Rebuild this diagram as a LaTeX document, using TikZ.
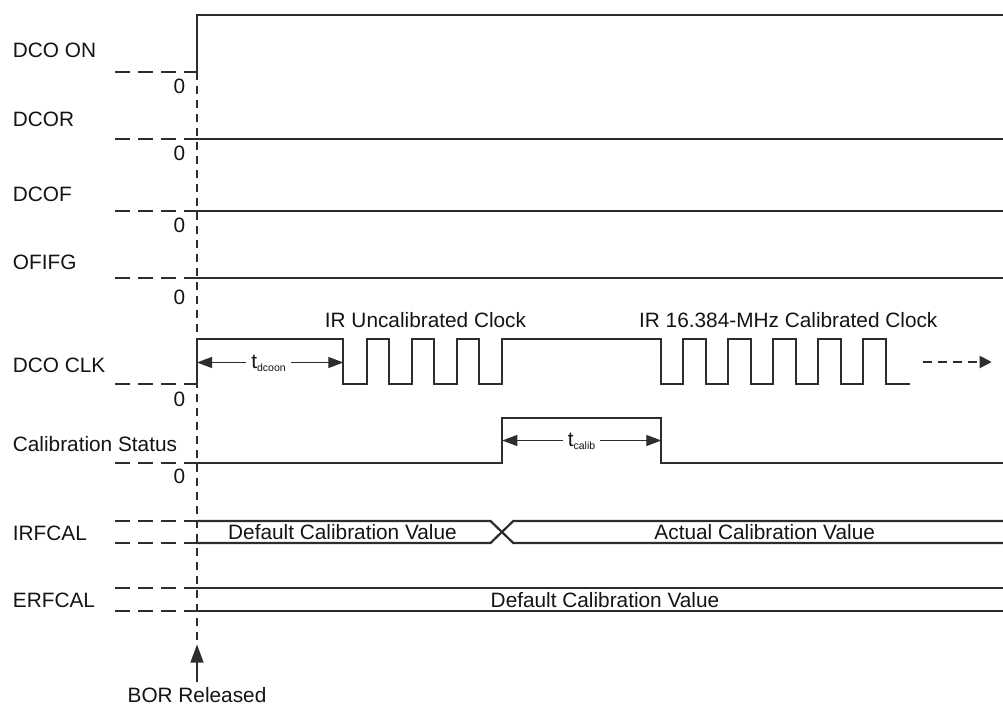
\documentclass[tikz,border=0pt]{standalone}
\usepackage{fontspec}
\setmainfont{Liberation Sans}
\usetikzlibrary{arrows.meta}
\definecolor{linec}{RGB}{45,45,45}
\definecolor{txtc}{RGB}{20,20,20}
\newcommand{\mylbfont}{\fontsize{20.8}{24}\selectfont}
\newcommand{\mytsub}[1]{t\raisebox{-3pt}{\fontsize{10.5}{12}\selectfont #1}}
\begin{document}
\begin{tikzpicture}[x=1pt,y=-1pt,
  sig/.style={line width=2.2pt,draw=linec,line join=miter},
  dsh/.style={line width=2.2pt,draw=linec,dash pattern=on 15pt off 8pt},
  vdsh/.style={line width=1.5pt,draw=linec,dash pattern=on 8pt off 6pt},
  dimarr/.style={line width=1.1pt,draw=linec,-{Triangle[length=15pt,width=11pt]}},
  lbl/.style={anchor=west,inner sep=0pt,text=txtc,font=\mylbfont},
  zero/.style={inner sep=0pt,text=txtc,font=\mylbfont},
  ctext/.style={inner sep=0pt,text=txtc,font=\mylbfont},
  dimlbl/.style={anchor=base,inner xsep=5pt,inner ysep=0pt,text=txtc,font=\mylbfont}]
\useasboundingbox[fill=white] (0,0) rectangle (1003,706);

% ---------- left labels ----------
\node[lbl] (lDCOON) at (12.7,50.8) {DCO ON};
\node[lbl] (lDCOR)  at (12.7,119.2) {DCOR};
\node[lbl] (lDCOF)  at (12.7,194.5) {DCOF};
\node[lbl] (lOFIFG) at (12.7,262.2) {OFIFG};
\node[lbl] (lCLK)   at (12.7,365) {DCO CLK};
\node[lbl] (lCAL)   at (12.7,443.8) {Calibration Status};
\node[lbl] (lIRF)   at (12.7,533.2) {IRFCAL};
\node[lbl] (lERF)   at (12.7,600.8) {ERFCAL};

% ---------- zero marks ----------
\node[zero] (z1) at (179.3,86.7) {0};
\node[zero] (z2) at (179.3,153.3) {0};
\node[zero] (z3) at (179.3,225.3) {0};
\node[zero] (z4) at (179.3,297) {0};
\node[zero] (z5) at (179.3,399) {0};
\node[zero] (z6) at (179.3,476.7) {0};

% ---------- dashed low levels ----------
\draw[dsh] (115,72) -- (197,72);
\draw[dsh] (115,139) -- (197,139);
\draw[dsh] (115,211) -- (197,211);
\draw[dsh] (115,278) -- (197,278);
\draw[dsh] (115,384) -- (197,384);
\draw[dsh] (115,463) -- (197,463);
\draw[dsh] (115,521) -- (197,521);
\draw[dsh] (115,543) -- (197,543);
\draw[dsh] (115,588) -- (197,588);
\draw[dsh] (115,611) -- (197,611);

% ---------- BOR marker ----------
\node[ctext] (bor) at (197,695.5) {BOR Released};
\coordinate (borTip) at (197,644.5);
\coordinate (borTop) at (197,72);
\draw[vdsh] (borTop) -- (borTip);
\draw[line width=1.1pt,draw=linec,-{Triangle[length=18pt,width=13pt]}] ([yshift=6pt]bor.north) -- (borTip);

% ---------- signals ----------
\draw[sig] (197,72) -- (197,15) -- (1003,15);
\draw[sig] (197,139) -- (1003,139);
\draw[sig] (197,211) -- (1003,211);
\draw[sig] (197,278) -- (1003,278);

% DCO CLK
\draw[sig] (197,384) -- (197,339) -- (343.3,339) -- (343.3,384)
  -- (366.7,384) -- (366.7,339) -- (389,339) -- (389,384)
  -- (411.7,384) -- (411.7,339) -- (434,339) -- (434,384)
  -- (456.7,384) -- (456.7,339) -- (479.3,339) -- (479.3,384)
  -- (502.3,384) -- (502.3,339) -- (661,339) -- (661,384)
  -- (682.7,384) -- (682.7,339) -- (706,339) -- (706,384)
  -- (728.3,384) -- (728.3,339) -- (750.7,339) -- (750.7,384)
  -- (773.3,384) -- (773.3,339) -- (796,339) -- (796,384)
  -- (818.3,384) -- (818.3,339) -- (841,339) -- (841,384)
  -- (863.3,384) -- (863.3,339) -- (886,339) -- (886,384)
  -- (910,384);
\node[ctext] (irunc) at (425.5,320.3) {IR Uncalibrated Clock};
\node[ctext] (ircal) at (788.3,320.3) {IR 16.384-MHz Calibrated Clock};
\coordinate (contS) at (922.7,362);
\coordinate (contE) at (991.7,362);
\draw[line width=2pt,draw=linec,dash pattern=on 9pt off 6pt,-{Triangle[length=12pt,width=12pt]}] (contS) -- (contE);

% t_dcoon
\coordinate (dcL) at (197,362.5);
\coordinate (dcR) at (343.3,362.5);
\node[dimlbl] (tdc) at (268.5,368.2) {\mytsub{dcoon}};
\draw[dimarr] (dcL -| tdc.west) -- (dcL);
\draw[dimarr] (dcR -| tdc.east) -- (dcR);

% Calibration status
\draw[sig] (197,463) -- (502.3,463) -- (502.3,418) -- (661.3,418) -- (661.3,463) -- (1003,463);
\coordinate (caL) at (502.3,440.5);
\coordinate (caR) at (661.3,440.5);
\node[dimlbl] (tca) at (581.5,446.5) {\mytsub{calib}};
\draw[dimarr] (caL -| tca.west) -- (caL);
\draw[dimarr] (caR -| tca.east) -- (caR);

% IRFCAL
\draw[sig] (197,521) -- (490.5,521) -- (513.3,543) -- (1003,543);
\draw[sig] (197,543) -- (490.5,543) -- (513.3,521) -- (1003,521);
\node[ctext] (irdef) at (342.5,532.5) {Default Calibration Value};
\node[ctext] (iract) at (764.7,532.5) {Actual Calibration Value};

% ERFCAL
\draw[sig] (197,588) -- (1003,588);
\draw[sig] (197,611) -- (1003,611);
\node[ctext] (erdef) at (605,600.5) {Default Calibration Value};
\end{tikzpicture}
\end{document}
